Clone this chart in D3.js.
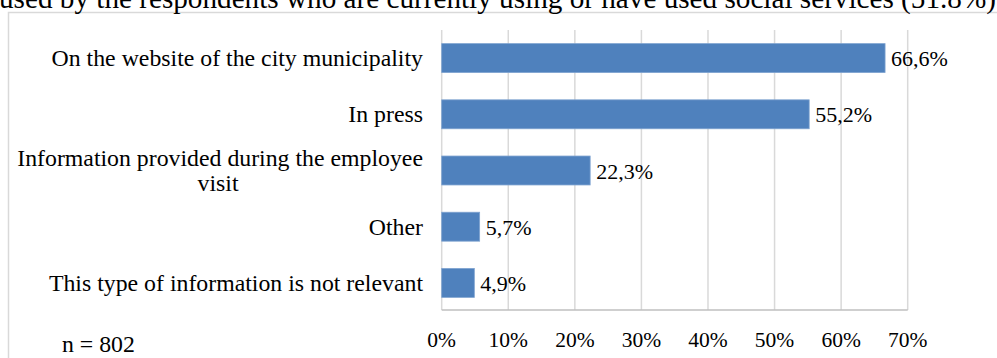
<!DOCTYPE html>
<html>
<head>
<meta charset="utf-8">
<script src="https://cdn.jsdelivr.net/npm/d3@7"></script>
<style>
  html, body { margin: 0; padding: 0; background: #fff; overflow: hidden; }
  svg { display: block; font-family: "Liberation Serif", "Times New Roman", serif; }
</style>
</head>
<body>
<svg id="chart" width="997" height="358"></svg>
<script>
const titleText = "used by the respondents who are currently using or have used social services (51.8%)";
const categories = [
  ["On the website of the city municipality"],
  ["In press"],
  ["Information provided during the employee", "visit"],
  ["Other"],
  ["This type of information is not relevant"]
];
const values = [66.6, 55.2, 22.3, 5.7, 4.9];
const valueLabels = ["66,6%", "55,2%", "22,3%", "5,7%", "4,9%"];
const tickValues = [0, 10, 20, 30, 40, 50, 60, 70];
const tickLabels = ["0%", "10%", "20%", "30%", "40%", "50%", "60%", "70%"];
const note = "n = 802";

const svg = d3.select("#chart");

// outer border of chart area
svg.append("rect")
  .attr("x", 8.5).attr("y", 12.5)
  .attr("width", 1000).attr("height", 400)
  .attr("fill", "none").attr("stroke", "#d9d9d9").attr("stroke-width", 1.5);

// title (partially cut)
svg.append("text")
  .attr("x", -1).attr("y", 7.5)
  .attr("font-size", 29.2)
  .attr("fill", "#000")
  .text(titleText);

const x = d3.scaleLinear().domain([0, 70]).range([441.7, 907.7]);
const idx = d3.range(categories.length);
const y = d3.scaleBand().domain(idx).range([30, 311]).paddingInner(0.485).paddingOuter(0.2425);

// gridlines
svg.append("g").selectAll("line").data(tickValues).join("line")
  .attr("x1", d => x(d)).attr("x2", d => x(d))
  .attr("y1", 30).attr("y2", 310)
  .attr("stroke", "#d9d9d9").attr("stroke-width", 1.5);

// bottom axis line
svg.append("line")
  .attr("x1", x(0)).attr("x2", x(70))
  .attr("y1", 310).attr("y2", 310)
  .attr("stroke", "#bfbfbf").attr("stroke-width", 1.5);

// tick labels
svg.append("g").selectAll("text").data(tickValues).join("text")
  .attr("x", d => x(d)).attr("y", 347)
  .attr("text-anchor", "middle")
  .attr("font-size", 21.5)
  .attr("fill", "#000")
  .text((d, i) => tickLabels[i]);

// bars
svg.append("g").selectAll("rect").data(idx).join("rect")
  .attr("x", x(0))
  .attr("y", i => y(i))
  .attr("width", i => x(values[i]) - x(0))
  .attr("height", y.bandwidth())
  .attr("fill", "#4F81BD")
  .attr("stroke", "#7FA3D0").attr("stroke-width", 0.8);

// value labels
svg.append("g").selectAll("text").data(idx).join("text")
  .attr("x", i => x(values[i]) + 6)
  .attr("y", i => y(i) + y.bandwidth() / 2 + 8)
  .attr("font-size", 22)
  .attr("fill", "#000")
  .text(i => valueLabels[i]);

// category labels
const catG = svg.append("g");
idx.forEach(i => {
  const lines = categories[i];
  const cy = y(i) + y.bandwidth() / 2;
  const lh = 24.3;
  const t = catG.append("text")
    .attr("font-size", 23.8)
    .attr("fill", "#000");
  lines.forEach((ln, j) => {
    const off = (j - (lines.length - 1) / 2) * lh;
    t.append("tspan")
      .attr("x", j === 0 ? 423 : 218)
      .attr("text-anchor", j === 0 ? "end" : "middle")
      .attr("y", cy + off + 8)
      .text(ln);
  });
});

// note
svg.append("text")
  .attr("x", 62).attr("y", 352)
  .attr("font-size", 23.8)
  .attr("fill", "#000")
  .text(note);
</script>
</body>
</html>
